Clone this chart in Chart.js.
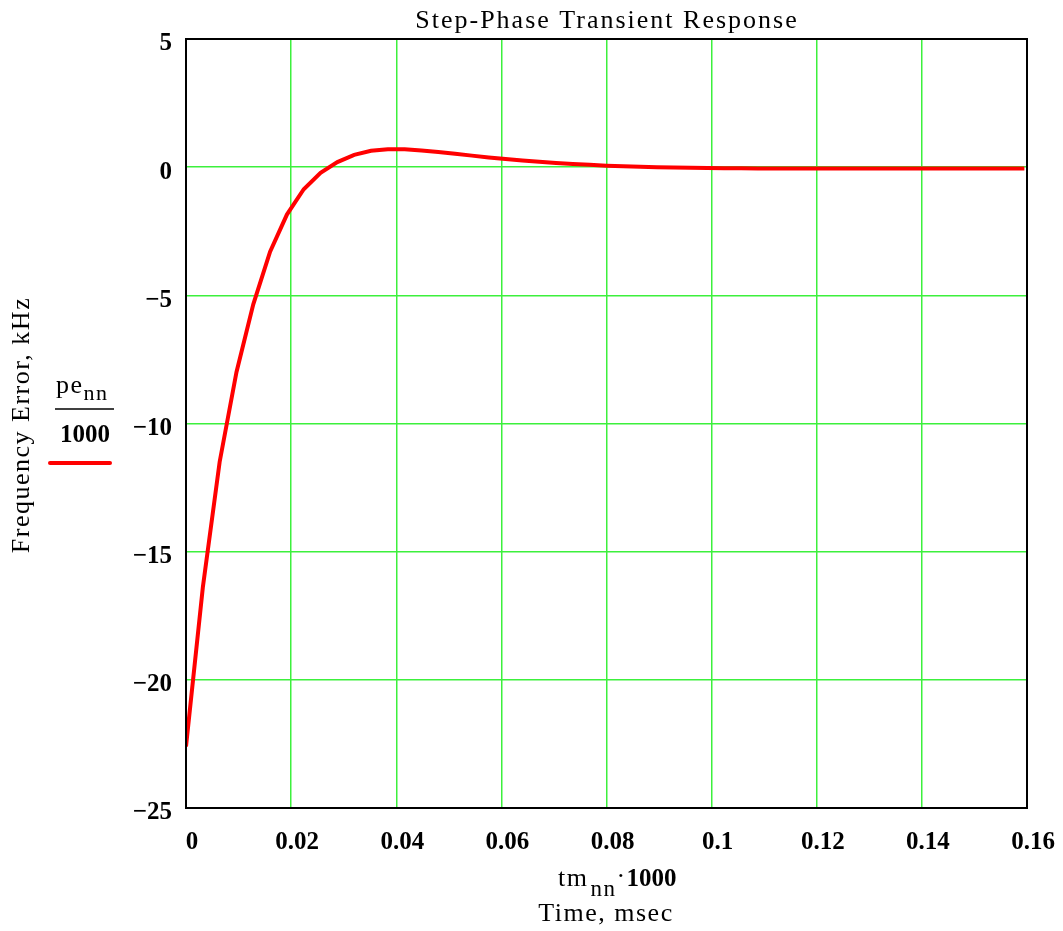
<!DOCTYPE html>
<html lang="en">
<head>
    <meta charset="UTF-8">
    <title>Step-Phase Transient Response</title>
    <script src="https://cdn.jsdelivr.net/npm/chart.js@4.4.0/dist/chart.umd.min.js"></script>
    <style>
        body { margin: 0; background: #fff; }
        #chart { display: block; }
    </style>
</head>
<body>
    <canvas id="chart" width="1063" height="931"></canvas>
    <script>
        // time, msec (tm_nn * 1000)
        const times = [
            0, 0.0032, 0.0064, 0.0096, 0.0128, 0.016, 0.0192, 0.0224, 0.0256, 0.0288,
            0.032, 0.0352, 0.0384, 0.0416, 0.0448, 0.048, 0.0512, 0.0544, 0.0576, 0.0608,
            0.064, 0.0672, 0.0704, 0.0736, 0.0768, 0.08, 0.0832, 0.0864, 0.0896, 0.0928,
            0.096, 0.0992, 0.1024, 0.1056, 0.1088, 0.112, 0.1152, 0.1184, 0.1216, 0.1248,
            0.128, 0.1312, 0.1344, 0.1376, 0.1408, 0.144, 0.1472, 0.1504, 0.1536, 0.1568,
            0.1595
        ];
        // frequency error, kHz (pe_nn / 1000)
        const freqError = [
            -22.6, -16.4, -11.5, -8.0, -5.35, -3.3, -1.85, -0.86, -0.22, 0.2,
            0.48, 0.64, 0.70, 0.70, 0.65, 0.59, 0.52, 0.45, 0.38, 0.32,
            0.26, 0.21, 0.16, 0.12, 0.09, 0.06, 0.04, 0.02, 0.0, -0.01,
            -0.02, -0.03, -0.04, -0.04, -0.05, -0.05, -0.05, -0.05, -0.05, -0.05,
            -0.05, -0.05, -0.05, -0.05, -0.05, -0.05, -0.05, -0.05, -0.05, -0.05,
            -0.05
        ];
        const xTicks = [0, 0.02, 0.04, 0.06, 0.08, 0.1, 0.12, 0.14, 0.16];
        const yTicks = [-25, -20, -15, -10, -5, 0, 5];

        const serif = '"Liberation Serif", "Times New Roman", serif';
        const green = '#3cf03c';

        // frame, title, axis titles and the little legend
        const decorations = {
            id: 'decorations',
            afterDraw(chart) {
                const ctx = chart.ctx;
                const a = chart.chartArea;
                ctx.save();

                ctx.strokeStyle = '#000';
                ctx.lineWidth = 2;
                ctx.strokeRect(a.left, a.top, a.right - a.left, a.bottom - a.top);

                ctx.fillStyle = '#000';
                ctx.textBaseline = 'alphabetic';
                ctx.textAlign = 'center';
                ctx.letterSpacing = '2px';
                ctx.font = '26px ' + serif;
                ctx.fillText('Step-Phase Transient Response', 607, 28);

                // y axis title
                ctx.save();
                ctx.letterSpacing = '1.5px';
                ctx.translate(29, 425);
                ctx.rotate(-Math.PI / 2);
                ctx.fillText('Frequency Error, kHz', 0, 0);
                ctx.restore();

                // x axis title: tm_nn·1000
                ctx.textAlign = 'left';
                ctx.letterSpacing = '1.5px';
                let x = 558;
                ctx.font = '26px ' + serif;
                ctx.fillText('tm', x, 886);
                x += ctx.measureText('tm').width + 2;
                ctx.font = '23px ' + serif;
                ctx.fillText('nn', x, 896);
                x += ctx.measureText('nn').width;
                ctx.font = '26px ' + serif;
                ctx.fillText('\u00b7', x, 884);
                x += ctx.measureText('\u00b7').width;
                ctx.letterSpacing = '0px';
                ctx.font = 'bold 25px ' + serif;
                ctx.fillText('1000', x, 886);

                ctx.textAlign = 'center';
                ctx.letterSpacing = '1.5px';
                ctx.font = '26px ' + serif;
                ctx.fillText('Time, msec', 606, 921);

                // legend fraction pe_nn / 1000
                ctx.textAlign = 'left';
                ctx.font = '26px ' + serif;
                ctx.fillText('pe', 56, 393);
                let w = ctx.measureText('pe').width;
                ctx.font = '22px ' + serif;
                ctx.fillText('nn', 56 + w, 400);
                ctx.beginPath();
                ctx.moveTo(55, 409);
                ctx.lineTo(114, 409);
                ctx.lineWidth = 1.5;
                ctx.stroke();
                ctx.letterSpacing = '0px';
                ctx.font = 'bold 25px ' + serif;
                ctx.fillText('1000', 60, 442);

                ctx.strokeStyle = '#ff0000';
                ctx.lineWidth = 4;
                ctx.lineCap = 'round';
                ctx.beginPath();
                ctx.moveTo(50, 463);
                ctx.lineTo(110, 463);
                ctx.stroke();

                ctx.restore();
            }
        };

        const fmt = v => String(v).replace('-', '\u2212');

        new Chart(document.getElementById('chart'), {
            type: 'line',
            data: {
                datasets: [{
                    data: times.map((t, i) => ({ x: t, y: freqError[i] })),
                    borderColor: '#ff0000',
                    borderWidth: 4,
                    pointRadius: 0,
                    tension: 0,
                    fill: false
                }]
            },
            options: {
                responsive: false,
                animation: false,
                layout: { padding: { left: 0, top: 39, right: 36, bottom: 73 } },
                plugins: { legend: { display: false }, tooltip: { enabled: false } },
                scales: {
                    x: {
                        type: 'linear',
                        min: 0,
                        max: 0.16,
                        afterBuildTicks: s => { s.ticks = xTicks.map(v => ({ value: v })); },
                        afterFit: s => { s.height = 50; s.paddingLeft = 0; s.paddingRight = 0; },
                        grid: { color: green, lineWidth: 1.5, drawTicks: false },
                        border: { display: false },
                        ticks: {
                            color: '#000',
                            padding: 20,
                            labelOffset: 6,
                            maxRotation: 0,
                            font: { family: serif, size: 25, weight: 'bold' },
                            callback: v => fmt(v)
                        }
                    },
                    y: {
                        min: -25,
                        max: 5,
                        afterBuildTicks: s => { s.ticks = yTicks.map(v => ({ value: v })); },
                        afterFit: s => { s.width = 186; s.paddingTop = 0; s.paddingBottom = 0; },
                        grid: { color: green, lineWidth: 1.5, drawTicks: false },
                        border: { display: false },
                        ticks: {
                            color: '#000',
                            padding: 14,
                            labelOffset: 5,
                            font: { family: serif, size: 25, weight: 'bold' },
                            callback: v => fmt(v)
                        }
                    }
                }
            },
            plugins: [decorations]
        });
    </script>
</body>
</html>
